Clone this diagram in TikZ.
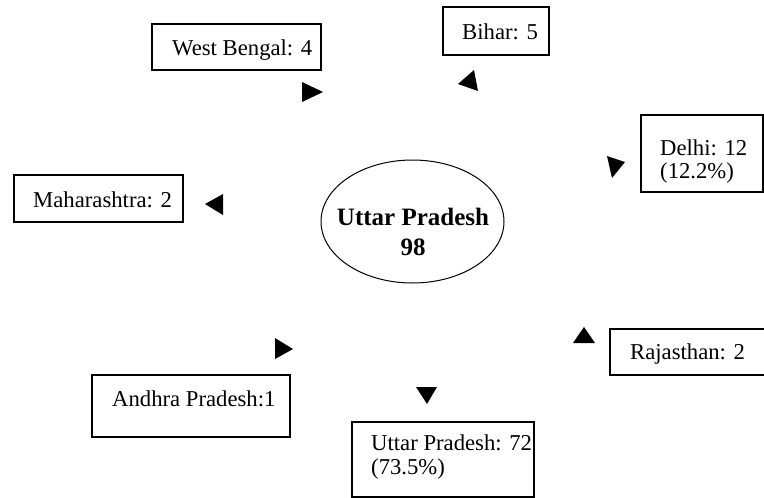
\documentclass[tikz,border=0pt]{standalone}
\usepackage{fontspec}
\setmainfont{Liberation Serif}
\begin{document}
\begin{tikzpicture}[x=1pt,y=-1pt,
  boxstyle/.style={draw=black,line width=1.3pt},
  lbl/.style={inner sep=0pt,anchor=base west,font=\fontsize{22.7}{24}\selectfont},
  blbl/.style={inner sep=0pt,anchor=base,font=\fontsize{25}{28}\selectfont\bfseries},
  tip/.style={fill=black}]
\useasboundingbox (0,0) rectangle (764,498);
% central ellipse
\draw[line width=1pt] (412.5,221.5) ellipse [x radius=91.5, y radius=61.5];
\node[blbl] (c1) at (413,225) {Uttar Pradesh};
\node[blbl] (c2) at (413,255) {98};
% boxes
\draw[boxstyle] (152,24) rectangle (321,70);
\node[lbl] (wb) at (172,55) {West Bengal: 4};
\draw[boxstyle] (443,7) rectangle (549,55);
\node[lbl] (bi) at (462,39) {Bihar: 5};
\draw[boxstyle] (641,115) rectangle (763,192);
\node[lbl] (de1) at (660,155) {Delhi: 12};
\node[lbl] (de2) at (660,178) {(12.2\%)};
\draw[boxstyle] (14,175) rectangle (183,222);
\node[lbl] (ma) at (33,207) {Maharashtra: 2};
\draw[boxstyle] (92,375) rectangle (290,437);
\node[lbl] (ap) at (112,406) {Andhra Pradesh:1};
\draw[boxstyle] (352,422) rectangle (534,497);
\node[lbl] (up1) at (371,450) {Uttar Pradesh: 72};
\node[lbl] (up2) at (371,474) {(73.5\%)};
\draw[boxstyle] (766,329) -- (610,329) -- (610,375) -- (766,375);
\node[lbl] (ra) at (630,359) {Rajasthan: 2};
% arrowheads
\fill[tip] (302,82) -- (302,102) -- (323,92) -- cycle;
\fill[tip] (474,70) -- (458,84) -- (478,91) -- cycle;
\fill[tip] (607,156) -- (625,162) -- (612,178) -- cycle;
\fill[tip] (205,204) -- (223,194) -- (223,215) -- cycle;
\fill[tip] (275,338) -- (275,359) -- (293,349) -- cycle;
\fill[tip] (416,387) -- (437,387) -- (427,404) -- cycle;
\fill[tip] (573,343) -- (595,343) -- (584,327) -- cycle;
\end{tikzpicture}
\end{document}
